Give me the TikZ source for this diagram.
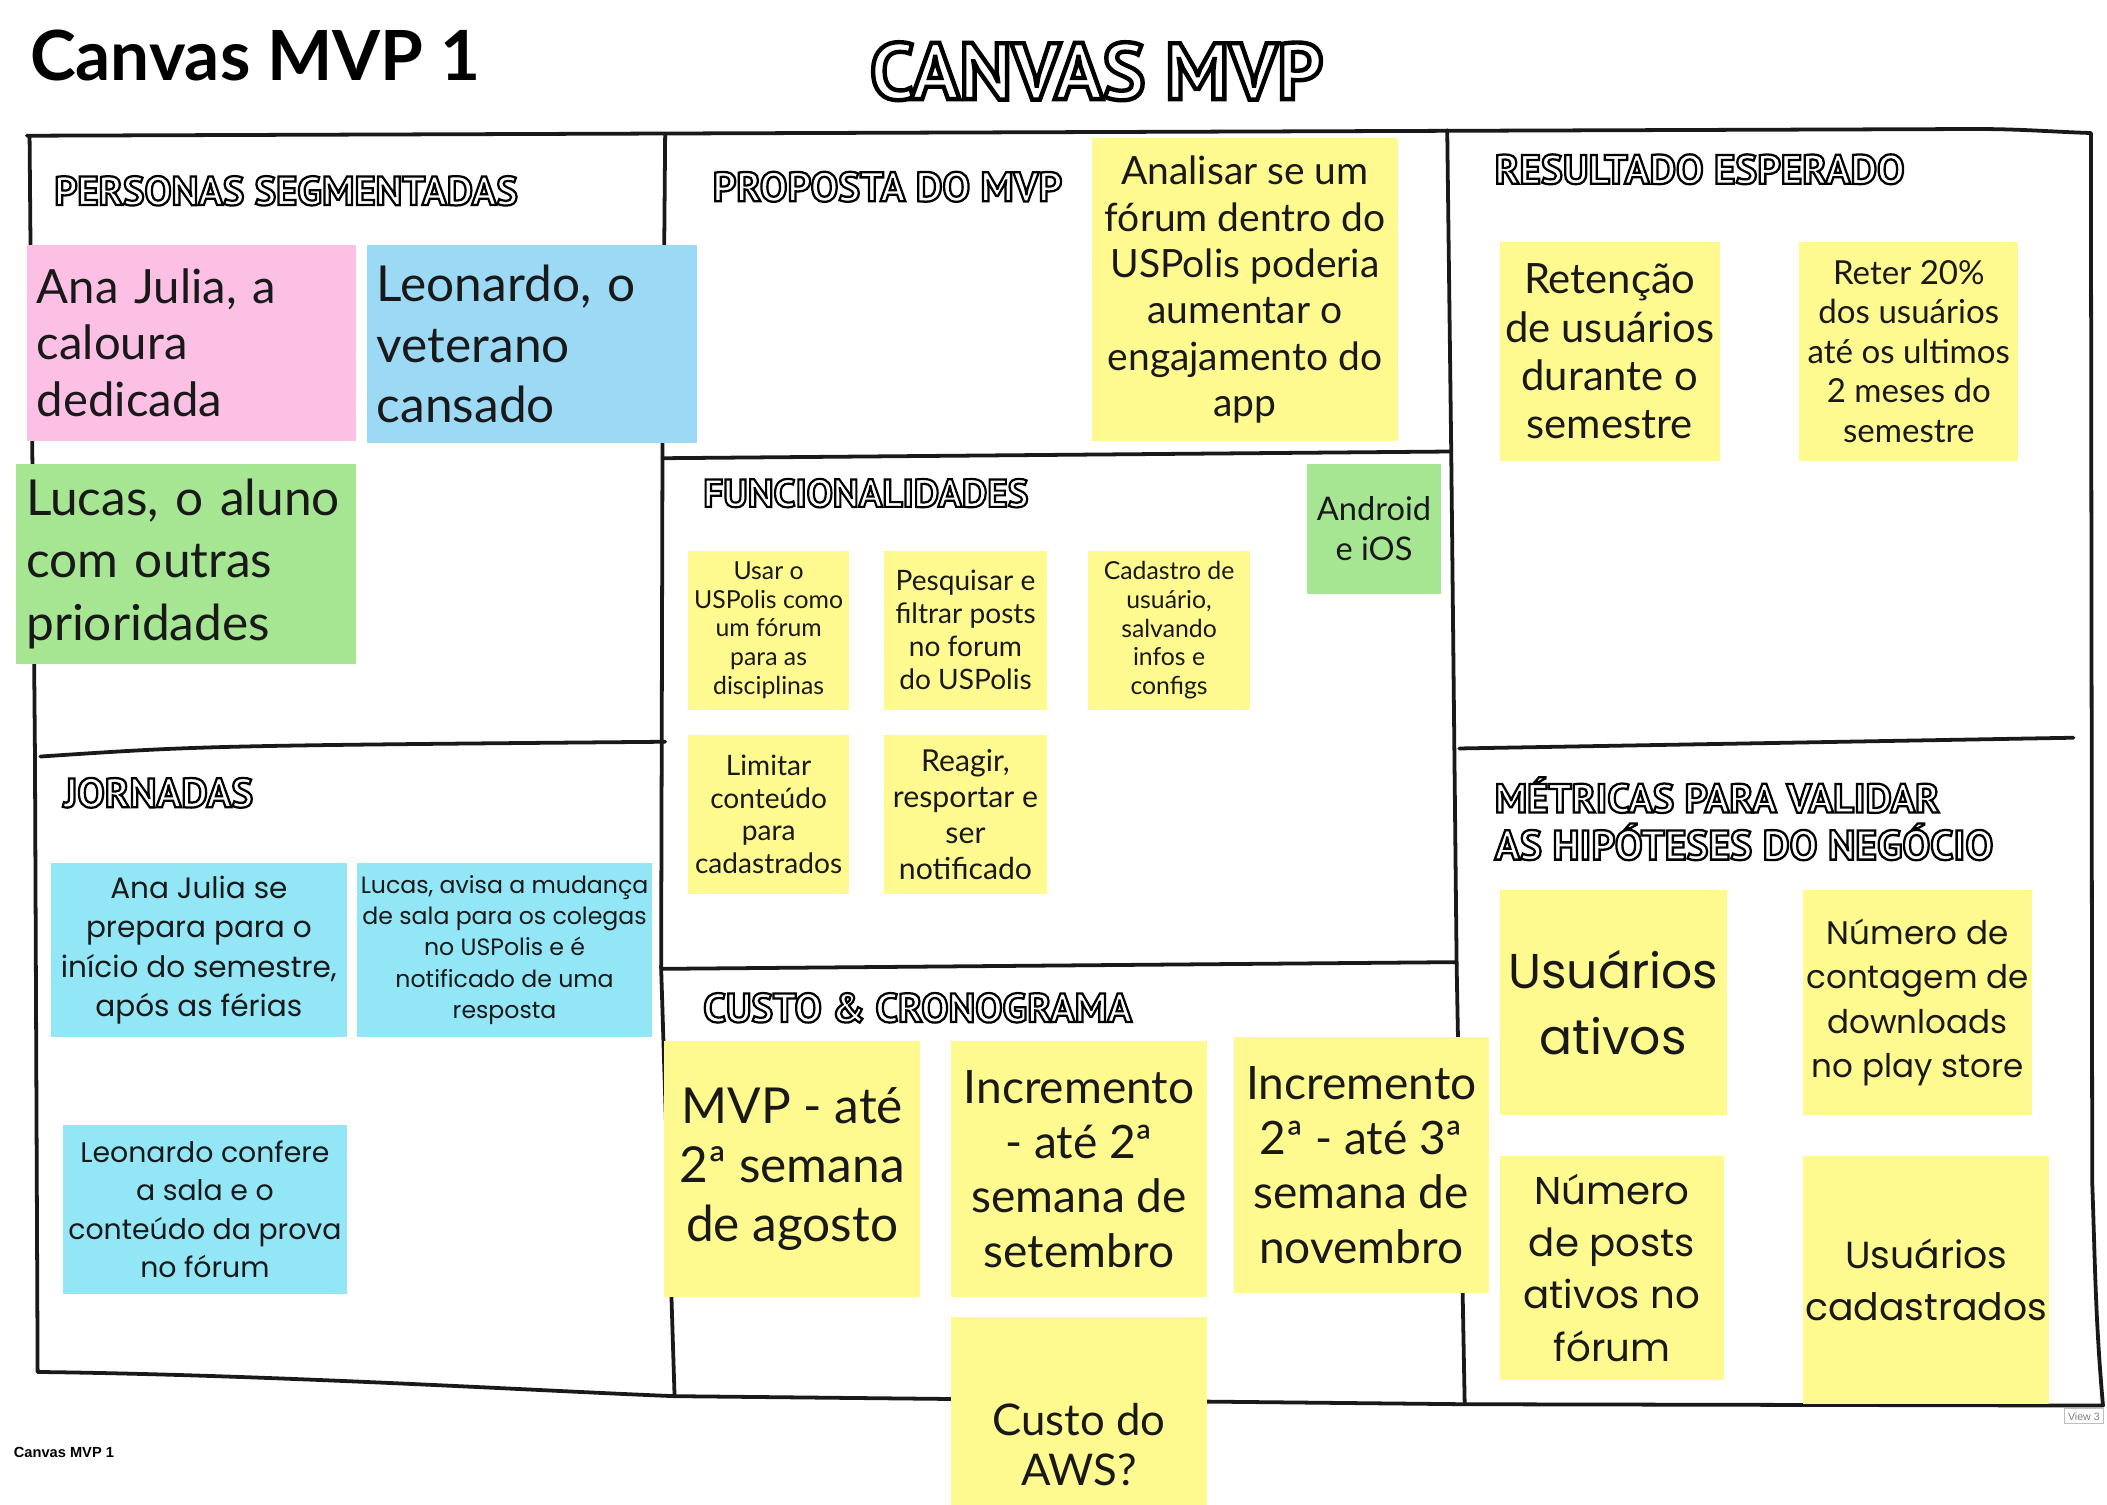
\documentclass[tikz,border=0pt]{standalone}
\usepackage{fontspec}
\setmainfont{Lato}
\newfontfamily\widefont{Poppins}
\newfontfamily\headfont{PT Sans}
\newfontfamily\uifont{Liberation Sans}

\definecolor{notepink}{RGB}{251,192,228}
\definecolor{noteblue}{RGB}{155,217,245}
\definecolor{notegreen}{RGB}{166,230,146}
\definecolor{notecyan}{RGB}{146,230,246}
\definecolor{noteyellow}{RGB}{255,250,143}

\newcommand\headlabel[2]{\resizebox{#1}{!}{\headfont\bfseries\fontsize{20}{24}\selectfont\color{white}%
    \special{pdf:literal direct 2 Tr 1.1 w 0 G}#2\special{pdf:literal direct 0 Tr}}}

\tikzset{
    fs/.style 2 args={font={\fontsize{#1}{#2}\selectfont}},
    wfs/.style 2 args={font={\widefont\fontsize{#1}{#2}\selectfont}},
}

\begin{document}
\begin{tikzpicture}[x=0.2mm,y=-0.2mm,
    frame/.style={line width=1.6pt,color=black!90,line cap=round,line join=round},
    sticky/.style={fill=noteyellow,align=center,inner sep=0pt,text=black!90},
    persona/.style={sticky,align=left,inner xsep=1.5mm,inner ysep=0pt}]
    \path[use as bounding box,fill=white] (0,0) rectangle (1568,1120);

    \draw[frame] (20,101) -- (1470,96) to[out=0,in=178] (1556,99) -- (1557,880)
        to[out=-88,in=95] (1565,1046) -- (1090,1045) -- (502,1039)
        .. controls (400,1035) and (200,1023) .. (28,1021) -- (26,560) -- (22,101);
    \draw[frame] (495,100) -- (493,340) -- (492,720) -- (502,1039);
    \draw[frame] (1077,97) -- (1080,338) -- (1084,718) -- (1090,1045);
    \draw[frame] (30,563) .. controls (150,555) .. (495,552);
    \draw[frame] (493,341) -- (1080,336);
    \draw[frame] (492,721) -- (1084,716);
    \draw[frame] (1086,557) -- (1543,549);

    \node[anchor=west,inner sep=0pt,font=\bfseries\fontsize{29.3}{35}\selectfont] (title) at (22,41) {Canvas MVP 1};
    \node[inner sep=0pt] (canvastitle) at (816,53) {\headlabel{67.4mm}{CANVAS MVP}};
    \foreach \x/\y/\w/\t [count=\k] in {40/142/69mm/PERSONAS SEGMENTADAS,
        530/139/52mm/PROPOSTA DO MVP, 1112/126/61mm/RESULTADO ESPERADO,
        523/367/48.4mm/FUNCIONALIDADES, 47/590/28.2mm/JORNADAS,
        523/750/63.8mm/CUSTO \& CRONOGRAMA}
    \node[anchor=west,inner sep=0pt] (head\k) at (\x,\y) {\headlabel{\w}{\t}};
    \node[anchor=north west,inner sep=0pt,align=left] (metricshead) at (1112,578)
        {\headlabel{66.2mm}{MÉTRICAS PARA VALIDAR}\\[1.2mm]\headlabel{74.2mm}{AS HIPÓTESES DO NEGÓCIO}};

    \node[persona,fill=notepink,text width=46mm,minimum height=29.2mm,fs={20}{23.8}] (ana) at (142.5,255)
        {Ana Julia, a\\caloura\\dedicada};
    \node[persona,fill=noteblue,text width=46.2mm,minimum height=29.6mm,fs={21}{25.5}] (leonardo) at (396,256)
        {Leonardo, o\\veterano\\cansado};
    \node[persona,fill=notegreen,text width=47.6mm,minimum height=29.8mm,fs={21}{26.4}] (lucas) at (138.5,419.5)
        {Lucas, o aluno\\com outras\\prioridades};

    \node[sticky,minimum width=45.4mm,minimum height=45mm,fs={16.5}{19.6}] (proposta) at (926.5,215.5)
        {Analisar se um\\fórum dentro do\\USPolis poderia\\aumentar o\\engajamento do\\app};
    \node[sticky,minimum width=32.8mm,minimum height=32.6mm,fs={17.7}{20.4}] (retencao) at (1198,261.5)
        {Retenção\\de usuários\\durante o\\semestre};
    \node[sticky,minimum width=32.6mm,minimum height=32.6mm,fs={14}{16.7}] (reter) at (1420.5,261.5)
        {Reter 20\%\\dos usuários\\até os ultimos\\2 meses do\\semestre};

    \node[sticky,fill=notegreen,minimum width=19.8mm,minimum height=19.4mm,fs={13.8}{17}] (android) at (1022.5,393.5)
        {Android\\e iOS};
    \node[sticky,minimum width=24mm,minimum height=23.6mm,fs={10.5}{12.1}] (forum) at (572,469)
        {Usar o\\USPolis como\\um fórum\\para as\\disciplinas};
    \node[sticky,minimum width=24.2mm,minimum height=23.6mm,fs={11.9}{14}] (pesquisar) at (718.5,469)
        {Pesquisar e\\filtrar posts\\no forum\\do USPolis};
    \node[sticky,minimum width=24mm,minimum height=23.6mm,fs={10.5}{12.1}] (cadastro) at (870,469)
        {Cadastro de\\usuário,\\salvando\\infos e\\configs};
    \node[sticky,minimum width=24mm,minimum height=23.6mm,fs={11.9}{13.8}] (limitar) at (572,606)
        {Limitar\\conteúdo\\para\\cadastrados};
    \node[sticky,minimum width=24.2mm,minimum height=23.6mm,fs={12.8}{15.3}] (reagir) at (718.5,606)
        {Reagir,\\resportar e\\ser\\notificado};

    \node[sticky,fill=notecyan,minimum width=44mm,minimum height=26mm,wfs={12.5}{16.6}] (jornadaana) at (148,707)
        {Ana Julia se\\prepara para o\\início do semestre,\\após as férias};
    \node[sticky,fill=notecyan,minimum width=43.8mm,minimum height=26mm,wfs={10}{13.2}] (jornadalucas) at (375.5,707)
        {Lucas, avisa a mudança\\de sala para os colegas\\no USPolis e é\\notificado de uma\\resposta};
    \node[sticky,fill=notecyan,minimum width=42.2mm,minimum height=25.2mm,wfs={12}{16.2}] (jornadaleo) at (152.5,900)
        {Leonardo confere\\a sala e o\\conteúdo da prova\\no fórum};

    \node[sticky,minimum width=38.2mm,minimum height=38mm,fs={21}{25}] (mvp) at (589.5,870)
        {MVP - até\\2ª semana\\de agosto};
    \node[sticky,minimum width=38mm,minimum height=38mm,fs={19.5}{23.1}] (inc1) at (803,870)
        {Incremento\\- até 2ª\\semana de\\setembro};
    \node[sticky,minimum width=38mm,minimum height=38mm,fs={19.5}{23.1}] (inc2) at (1013,867)
        {Incremento\\2ª - até 3ª\\semana de\\novembro};
    \node[sticky,minimum width=38mm,minimum height=38mm,fs={18.5}{21.5}] (aws) at (803,1075)
        {Custo do\\AWS?};

    \node[sticky,minimum width=33.8mm,minimum height=33.6mm,wfs={20.7}{27.8}] (ativos) at (1200.5,746)
        {Usuários\\ativos};
    \node[sticky,minimum width=34mm,minimum height=33.6mm,wfs={13.8}{18.7}] (downloads) at (1427,746)
        {Número de\\contagem de\\downloads\\no play store};
    \node[sticky,minimum width=33.4mm,minimum height=33.4mm,wfs={16.4}{22.1}] (posts) at (1199.5,943.5)
        {Número\\de posts\\ativos no\\fórum};
    \node[sticky,minimum width=36.6mm,minimum height=37mm,wfs={16}{22.1}] (cadastrados) at (1433.5,952.5)
        {Usuários\\cadastrados};

    \node[anchor=west,inner sep=0pt,font=\uifont\bfseries\fontsize{6.2}{7}\selectfont] (caption) at (10,1081) {Canvas MVP 1};
    \node[anchor=west,draw=black!25,fill=white,inner sep=1.5pt,text=black!50,font=\uifont\fontsize{4.5}{5}\selectfont] (view) at (1536,1054) {View 3};
\end{tikzpicture}
\end{document}
